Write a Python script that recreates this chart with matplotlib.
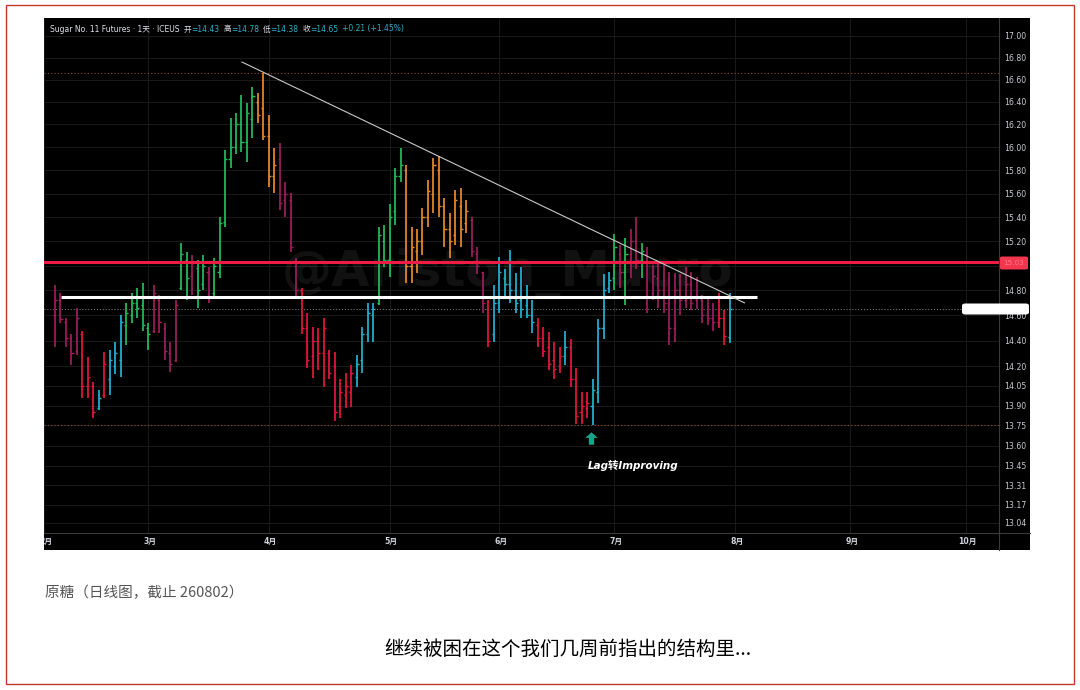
import numpy as np
import pandas as pd
import matplotlib
matplotlib.use("Agg")
import matplotlib.pyplot as plt
from matplotlib.patches import Rectangle, FancyBboxPatch
from matplotlib.path import Path
from matplotlib.ticker import FixedLocator, FixedFormatter, NullLocator

plt.rcParams['font.family'] = ['DejaVu Sans', 'Noto Sans CJK SC']

# ---------------- data ----------------
start_date = "2026-02-04"
holidays = ["2026-02-16", "2026-05-25", "2026-06-19", "2026-07-03", "2026-09-07"]

highs = [
    14.84, 14.78, 14.58, 14.45, 14.66, 14.48, 14.27, 14.08, 14.02, 14.31,
    14.33, 14.39, 14.60, 14.70, 14.78, 14.82, 14.86, 14.54, 14.84, 14.76,
    14.54, 14.39, 14.72, 15.19, 15.11, 15.09, 15.05, 15.09, 14.99, 15.06,
    15.40, 15.98, 16.26, 16.30, 16.46, 16.39, 16.53, 16.48, 16.66, 16.28,
    15.99, 16.04, 15.70, 15.61, 15.06, 14.82, 14.62, 14.51, 14.50, 14.58,
    14.33, 14.31, 14.10, 14.15, 14.21, 14.29, 14.51, 14.70, 14.70, 15.32,
    15.34, 15.51, 15.82, 15.99, 15.85, 15.32, 15.30, 15.48, 15.72, 15.91,
    15.92, 15.56, 15.44, 15.63, 15.65, 15.55, 15.40, 15.15, 14.95, 14.72,
    14.84, 15.07, 14.97, 15.13, 14.94, 14.99, 14.84, 14.72, 14.58, 14.51,
    14.47, 14.39, 14.35, 14.48, 14.41, 14.19, 14.00, 14.00, 14.10, 14.57,
    14.93, 14.95, 15.26, 15.17, 15.23, 15.30, 15.40, 15.19, 15.15, 15.01,
    15.02, 15.01, 14.95, 14.94, 14.93, 14.99, 14.95, 14.91, 14.76, 14.74,
    14.70, 14.78, 14.64, 14.78]

lows = [
    14.35, 14.54, 14.35, 14.21, 14.29, 13.96, 13.96, 13.81, 13.87, 13.96,
    13.98, 14.14, 14.12, 14.37, 14.54, 14.58, 14.48, 14.33, 14.46, 14.46,
    14.25, 14.16, 14.23, 14.80, 14.72, 14.76, 14.66, 14.80, 14.70, 14.74,
    14.90, 15.32, 15.82, 15.94, 15.96, 15.87, 16.08, 16.21, 16.06, 15.66,
    15.61, 15.46, 15.40, 15.11, 14.74, 14.45, 14.19, 14.11, 14.17, 14.04,
    14.10, 13.78, 13.81, 13.88, 13.89, 14.04, 14.15, 14.39, 14.39, 14.68,
    14.99, 14.91, 15.34, 15.70, 14.86, 14.86, 14.94, 15.09, 15.32, 15.44,
    15.40, 15.15, 15.06, 15.17, 15.15, 15.27, 15.07, 14.93, 14.62, 14.35,
    14.39, 14.62, 14.74, 14.70, 14.62, 14.58, 14.58, 14.46, 14.35, 14.27,
    14.17, 14.10, 14.15, 14.21, 14.04, 13.76, 13.76, 13.81, 13.75, 13.92,
    14.41, 14.78, 14.80, 14.82, 14.68, 14.90, 14.97, 14.90, 14.62, 14.72,
    14.66, 14.62, 14.37, 14.39, 14.60, 14.66, 14.64, 14.65, 14.54, 14.52,
    14.48, 14.50, 14.37, 14.38]

opens = [
    14.60, 14.72, 14.55, 14.42, 14.32, 14.45, 14.05, 14.05, 13.88, 13.98,
    14.10, 14.20, 14.25, 14.52, 14.60, 14.70, 14.68, 14.50, 14.48, 14.72,
    14.50, 14.30, 14.25, 14.82, 15.05, 14.92, 14.98, 14.85, 14.95, 14.78,
    14.95, 15.36, 15.90, 16.00, 16.20, 16.05, 16.25, 16.40, 16.35, 16.10,
    15.75, 15.90, 15.55, 15.55, 15.00, 14.80, 14.50, 14.28, 14.40, 14.30,
    14.30, 14.20, 13.90, 13.98, 14.00, 14.12, 14.25, 14.45, 14.60, 14.70,
    15.20, 15.05, 15.45, 15.75, 15.80, 15.00, 15.12, 15.20, 15.40, 15.60,
    15.80, 15.50, 15.30, 15.25, 15.50, 15.35, 15.38, 15.10, 14.95, 14.65,
    14.45, 14.70, 14.90, 14.85, 14.80, 14.72, 14.68, 14.60, 14.52, 14.42,
    14.35, 14.25, 14.20, 14.28, 14.35, 14.10, 13.85, 13.88, 13.90, 14.00,
    14.50, 14.82, 14.90, 15.10, 14.95, 15.10, 15.20, 15.05, 15.10, 14.78,
    14.90, 14.80, 14.70, 14.50, 14.80, 14.72, 14.85, 14.72, 14.72, 14.60,
    14.58, 14.55, 14.58, 14.43]

closes = [
    14.72, 14.57, 14.42, 14.30, 14.58, 14.05, 14.12, 13.85, 13.96, 14.22,
    14.25, 14.30, 14.55, 14.62, 14.70, 14.66, 14.52, 14.45, 14.78, 14.55,
    14.32, 14.22, 14.68, 15.10, 14.90, 15.02, 14.80, 15.00, 14.75, 15.00,
    15.35, 15.90, 16.00, 16.20, 16.05, 16.30, 16.45, 16.28, 16.10, 15.75,
    15.85, 15.52, 15.60, 15.15, 14.80, 14.50, 14.25, 14.40, 14.30, 14.50,
    14.15, 13.85, 14.00, 14.05, 14.15, 14.22, 14.45, 14.62, 14.65, 15.25,
    15.05, 15.40, 15.75, 15.85, 15.00, 15.15, 15.20, 15.40, 15.62, 15.85,
    15.50, 15.30, 15.20, 15.55, 15.30, 15.45, 15.12, 15.00, 14.70, 14.40,
    14.70, 14.95, 14.85, 14.80, 14.70, 14.65, 14.60, 14.55, 14.42, 14.32,
    14.22, 14.18, 14.28, 14.35, 14.10, 13.82, 13.90, 13.92, 14.02, 14.50,
    14.80, 14.88, 15.15, 14.95, 15.10, 15.20, 15.05, 15.12, 14.75, 14.92,
    14.80, 14.70, 14.50, 14.80, 14.72, 14.85, 14.70, 14.75, 14.60, 14.58,
    14.55, 14.58, 14.44, 14.65]

# phase of each bar: M lagging, R weakening-lag, C improving, G leading, O weakening
phases = ("MMMMM" "RRR" "C" "R" "CCC" "GGGGG" "MMMMM" "GG" "M" "GG" "M"
          "GGGGGGGG" "OOOO" "MMMM" "RRRRRRRRRR" "CCCC" "GGGGG" "OOOOOOOOOOOO"
          "MMM" "R" "CCCCCCCC" "RRRRR" "C" "RRRR" "CCCC" "G" "M" "G" "MM" "G"
          "MMMMMMMMMMMMM" "RR" "C")

phase_colors = {"M": "#a11d5e", "R": "#e8163e", "C": "#22b4d6",
                "G": "#22bf5c", "O": "#ec8b25"}

price_ticks = [17.00, 16.80, 16.60, 16.40, 16.20, 16.00, 15.80, 15.60, 15.40,
               15.20, 15.00, 14.80, 14.60, 14.40, 14.20, 14.05, 13.90, 13.75,
               13.60, 13.45, 13.31, 13.17, 13.04]

resistance_level = 15.03
support_level = 14.75
support_span = [1.1, 127.9]
high_mark = 16.66
low_mark = 13.75
trend_x = [34.1, 125.7]
trend_y = [16.76, 14.70]
arrow_pos = (97.8, 13.66)

# ---------------- figure ----------------
W, H = 1080, 690
fig = plt.figure(figsize=(10.8, 6.9), dpi=100)
fig.patch.set_facecolor("white")

def fx(px):
    return px / W

def fy(py):
    return 1 - py / H

# red frame
fig.patches.append(Rectangle((fx(6), fy(684)), fx(1074) - fx(6), fy(5) - fy(684),
                             transform=fig.transFigure, fill=False,
                             edgecolor="#c0392b", lw=1.0, zorder=-5))
# black panel
fig.patches.append(Rectangle((fx(44), fy(550)), fx(1030) - fx(44), fy(18) - fy(550),
                             transform=fig.transFigure, facecolor="black",
                             edgecolor="none", zorder=-5))

n = len(highs)
x = np.arange(n)
cols = [phase_colors[p] for p in phases]

ax = fig.add_axes([fx(44), fy(533), fx(999) - fx(44), fy(18) - fy(533)])
ax.set_facecolor("black")
for s in ax.spines.values():
    s.set_visible(False)
ax.set_yscale("log")
ax.set_ylim(12.968, 17.167)
ax.set_xlim(-0.9, 172.1)

# calendar for month labels
cbd = pd.offsets.CustomBusinessDay(holidays=holidays)
cal = pd.date_range("2026-02-02", "2026-10-30", freq=cbd)
start_pos = cal.get_loc(pd.Timestamp(start_date))
cal_idx = np.arange(len(cal)) - start_pos
months = np.asarray(cal.month)
first = np.r_[True, months[1:] != months[:-1]]
month_pos = cal_idx[first]
month_lab = [f"{m}月" for m in months[first]]

# tick labels; the one hidden under the red level tag is left blank
tick_labels = ["" if abs(t - resistance_level) < 0.05 else f"{t:.2f}" for t in price_ticks]
ax.yaxis.tick_right()
ax.yaxis.set_major_locator(FixedLocator(price_ticks))
ax.yaxis.set_major_formatter(FixedFormatter(tick_labels))
ax.yaxis.set_minor_locator(NullLocator())
ax.tick_params(axis="y", length=0, pad=4, labelsize=5.6, labelcolor="#c9ccd4")
ax.set_xticks(month_pos)
ax.set_xticklabels([])
ax.tick_params(axis="x", length=0)
ax.grid(True, color="#1a1a1a", lw=0.7)
ax.set_axisbelow(True)

# watermark
ax.text(0.485, 0.505, "@Ariston_Macro", transform=ax.transAxes, fontsize=36,
        fontweight="bold", color="white", alpha=0.07, ha="center", va="center",
        zorder=1)

# dotted marks
ax.axhline(high_mark, color="#8a4d1c", lw=0.8, ls=(0, (1, 2)), zorder=1)
ax.axhline(low_mark, color="#8a4d1c", lw=0.8, ls=(0, (1, 2)), zorder=1)
ax.axhline(closes[-1], color="#8a8a8a", lw=0.7, ls=(0, (1, 2)), zorder=1)

# OHLC bars
ax.vlines(x, lows, highs, colors=cols, lw=1.25, zorder=3)
ax.hlines(opens, x - 0.38, x, colors=cols, lw=1.0, zorder=3)
ax.hlines(closes, x, x + 0.38, colors=cols, lw=1.0, zorder=3)

# levels
ax.axhline(resistance_level, color="#ee1c44", lw=2.2, zorder=4)
ax.hlines(support_level, support_span[0], support_span[1], color="white", lw=2.2, zorder=4)
ax.plot(trend_x, trend_y, color="#c8c8c8", lw=0.8, zorder=5)

# arrow marker
arrow = Path([(0, 1), (-1, 0.1), (-0.42, 0.1), (-0.42, -1), (0.42, -1), (0.42, 0.1),
              (1, 0.1), (0, 1)],
             [Path.MOVETO] + [Path.LINETO] * 6 + [Path.CLOSEPOLY])
ax.plot([arrow_pos[0]], [arrow_pos[1]], marker=arrow, ms=9, color="#17a589",
        mec="none", zorder=6)

# price tags on axis
fig.patches.append(FancyBboxPatch((fx(1000), fy(269.5)), fx(1028) - fx(1000),
                                  fy(256.5) - fy(269.5),
                                  boxstyle="round,pad=0,rounding_size=0.002",
                                  transform=fig.transFigure, facecolor="#f2364d",
                                  edgecolor="none", zorder=10))
fig.text(fx(1014), fy(263), f"{resistance_level:.2f}", color="#ff7d8e",
         fontsize=5.2, ha="center", va="center", zorder=11)
fig.patches.append(FancyBboxPatch((fx(962), fy(314.5)), fx(1029) - fx(962),
                                  fy(303.5) - fy(314.5),
                                  boxstyle="round,pad=0,rounding_size=0.003",
                                  transform=fig.transFigure, facecolor="white",
                                  edgecolor="none", zorder=10))

# separators
fig.add_artist(plt.Line2D([fx(999), fx(999)], [fy(18), fy(550)], color="#3a3a3a", lw=0.8))
fig.add_artist(plt.Line2D([fx(44), fx(1030)], [fy(533), fy(533)], color="#3a3a3a", lw=0.8))

# date axis row
dax = fig.add_axes([fx(44), fy(550), fx(999) - fx(44), fy(533) - fy(550)])
dax.set_facecolor("black")
dax.set_xlim(ax.get_xlim())
dax.set_ylim(0, 1)
dax.axis("off")
for p, lab in zip(month_pos, month_lab):
    dax.text(p + 0.3, 0.5, lab, ha="center", va="center", fontsize=5.6,
             color="#d1d4dc", fontweight="bold", clip_on=True)

# legend line at top
r = fig.canvas.get_renderer()
o, h, l, c = opens[-1], highs[-1], lows[-1], closes[-1]
chg = c - closes[-2]
pct = chg / closes[-2] * 100
teal = "#2fb0c4"
pieces = [("Sugar No. 11 Futures · 1天 · ICEUS", "#e0e3eb", 4),
          ("开", "#e0e3eb", 0), (f"={o:.2f}", teal, 4),
          ("高", "#e0e3eb", 0), (f"={h:.2f}", teal, 4),
          ("低", "#e0e3eb", 0), (f"={l:.2f}", teal, 4),
          ("收", "#e0e3eb", 0), (f"={c:.2f}", teal, 4),
          (f"{chg:+.2f} ({pct:+.2f}%)", teal, 0)]
xp = 50
for s, col, gap in pieces:
    t = fig.text(fx(xp), fy(29), s, color=col, fontsize=5.5, ha="left", va="center")
    bb = t.get_window_extent(renderer=r)
    xp += bb.width + gap

# annotation text
fig.text(fx(633), fy(465), "Lag转Improving", color="white", fontsize=7.5,
         fontweight="bold", style="italic", ha="center", va="center")

# captions below
fig.text(fx(45), fy(593), "原糖（日线图，截止 260802）", color="#555555",
         fontsize=10.5, ha="left", va="center",
         family=["Noto Sans CJK SC", "DejaVu Sans"])
fig.text(fx(568), fy(649), "继续被困在这个我们几周前指出的结构里...", color="black",
         fontsize=14, ha="center", va="center",
         family=["Noto Sans CJK SC", "DejaVu Sans"])

fig.savefig("out.png", dpi=100, facecolor="white")
